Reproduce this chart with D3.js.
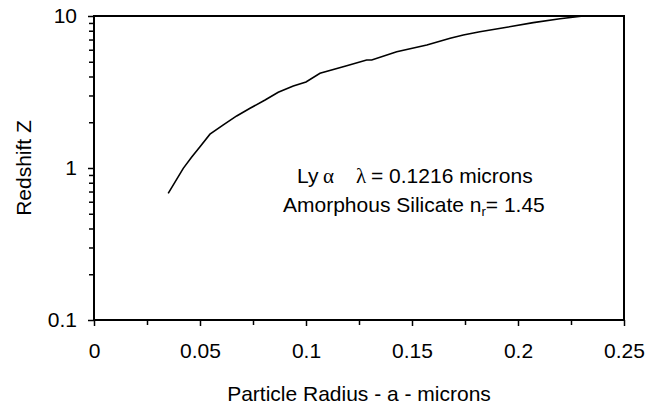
<!DOCTYPE html>
<html>
<head>
<meta charset="utf-8">
<script src="https://cdn.jsdelivr.net/npm/d3@7"></script>
<style>
  body { margin: 0; background: #fff; }
  text { font-family: 'Liberation Sans', Arial, sans-serif; }
</style>
</head>
<body>
<div id="chart"></div>
<script>
'use strict'

// particle radius (microns) vs redshift Z
var radius = [0.035, 0.0421, 0.0461, 0.05, 0.0547, 0.061, 0.0673, 0.0736, 0.0807,
  0.0869, 0.094, 0.1, 0.1066, 0.1192, 0.1286, 0.131, 0.1428, 0.157, 0.168,
  0.1742, 0.182, 0.1947, 0.2072, 0.2198, 0.2308]
var redshift = [0.68, 0.995, 1.18, 1.38, 1.67, 1.92, 2.2, 2.47, 2.8,
  3.15, 3.46, 3.68, 4.2, 4.71, 5.13, 5.13, 5.82, 6.44, 7.13,
  7.5, 7.88, 8.43, 9.04, 9.6, 10]

var xTicks = [0, 0.05, 0.1, 0.15, 0.2, 0.25]
var xMinorTicks = [0.025, 0.075, 0.125, 0.175, 0.225]
var yTicks = [0.1, 1, 10]
var yTickLabels = ['0.1', '1', '10']

var width = 648
var height = 405
var margin = { top: 16, right: 24, bottom: 85, left: 94 }
var w = width - margin.left - margin.right
var h = height - margin.top - margin.bottom
var fontSize = '21px'

var svg = d3.select('#chart')
  .append('svg')
  .attr('width', width)
  .attr('height', height)

var g = svg.append('g')
  .attr('transform', 'translate(' + margin.left + ',' + margin.top + ')')

var x = d3.scaleLinear().domain([0, 0.25]).range([0, w])
var y = d3.scaleLog().domain([0.1, 10]).range([h, 0])

var yMinor = []
;[0.1, 1].forEach(function(d) {
  for (var k = 2; k <= 9; k++) yMinor.push(d * k)
})

// minor ticks
g.append('g')
  .attr('transform', 'translate(0,' + h + ')')
  .call(d3.axisBottom(x).tickValues(xMinorTicks).tickSize(5).tickFormat(''))
  .call(function(a) { a.select('.domain').remove() })
  .selectAll('line').attr('stroke-width', 1.5)

g.append('g')
  .call(d3.axisLeft(y).tickValues(yMinor).tickSize(5).tickFormat(''))
  .call(function(a) { a.select('.domain').remove() })
  .selectAll('line').attr('stroke-width', 1.5)

// major ticks + labels
var xAxis = g.append('g')
  .attr('transform', 'translate(0,' + h + ')')
  .call(d3.axisBottom(x).tickValues(xTicks).tickSize(6).tickPadding(17)
    .tickFormat(function(d) { return d3.format('')(d) }))
xAxis.select('.domain').remove()
xAxis.selectAll('line').attr('stroke-width', 1.5)
xAxis.selectAll('text').attr('font-size', fontSize).attr('fill', '#000')

var yAxis = g.append('g')
  .call(d3.axisLeft(y).tickValues(yTicks).tickSize(6).tickPadding(11)
    .tickFormat(function(d, i) { return yTickLabels[i] }))
yAxis.select('.domain').remove()
yAxis.selectAll('line').attr('stroke-width', 1.5)
yAxis.selectAll('text').attr('font-size', fontSize).attr('fill', '#000')

// frame
g.append('rect')
  .attr('width', w)
  .attr('height', h)
  .attr('fill', 'none')
  .attr('stroke', '#000')
  .attr('stroke-width', 2)

g.append('clipPath').attr('id', 'clip')
  .append('rect').attr('width', w).attr('height', h)

var line = d3.line()
  .x(function(d) { return x(d[0]) })
  .y(function(d) { return y(d[1]) })

g.append('path')
  .datum(d3.zip(radius, redshift))
  .attr('clip-path', 'url(#clip)')
  .attr('fill', 'none')
  .attr('stroke', '#000')
  .attr('stroke-width', 1.6)
  .attr('d', line)

// annotation
var greek = "'Liberation Serif', 'DejaVu Serif', serif"
var l1 = g.append('text')
  .attr('y', 167)
  .attr('font-size', fontSize)
  .attr('fill', '#000')
l1.append('tspan').attr('x', 203).text('Ly')
l1.append('tspan').attr('x', 229).attr('font-family', greek).text('\u03b1')
l1.append('tspan').attr('x', 262).attr('font-family', greek).text('\u03bb')
l1.append('tspan').attr('x', 277).text('= 0.1216 microns')

var l2 = g.append('text')
  .attr('x', 189)
  .attr('y', 196)
  .attr('font-size', fontSize)
  .attr('fill', '#000')
l2.append('tspan').text('Amorphous Silicate n')
l2.append('tspan').attr('font-size', '13px').attr('dy', 4).text('r')
l2.append('tspan').attr('dy', -4).text('= 1.45')

// axis titles
svg.append('text')
  .attr('x', margin.left + w / 2)
  .attr('y', 401)
  .attr('text-anchor', 'middle')
  .attr('font-size', fontSize)
  .text('Particle Radius - a - microns')

svg.append('text')
  .attr('transform', 'translate(31,' + (margin.top + h / 2) + ') rotate(-90)')
  .attr('text-anchor', 'middle')
  .attr('font-size', fontSize)
  .text('Redshift Z')
</script>
</body>
</html>
